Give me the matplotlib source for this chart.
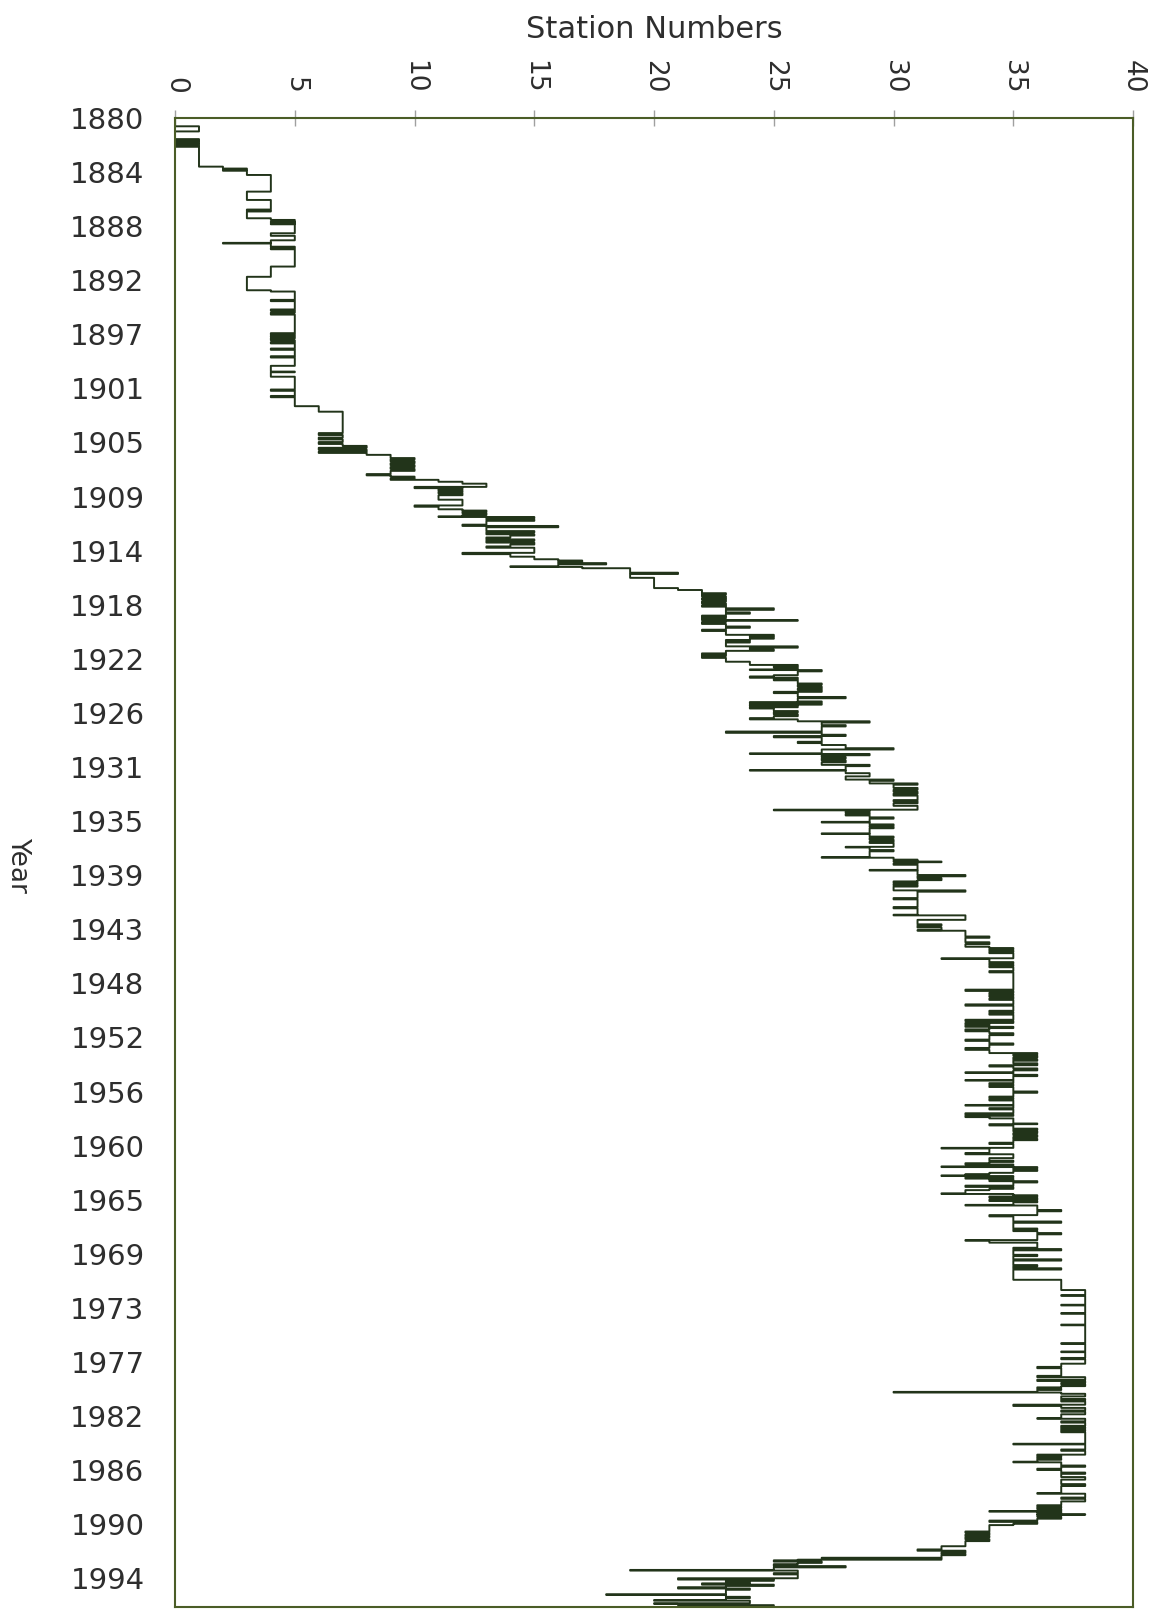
import matplotlib.pyplot as plt
import numpy as np

# top axis: number of stations
station_ticks = [0, 5, 10, 15, 20, 25, 30, 35, 40]

# left axis labels (category axis of the original sheet, one label every ~4.2 years)
year_labels = ["1880", "1884", "1888", "1892", "1897", "1901", "1905", "1909",
               "1914", "1918", "1922", "1926", "1931", "1935", "1939", "1943",
               "1948", "1952", "1956", "1960", "1965", "1969", "1973", "1977",
               "1982", "1986", "1990", "1994"]

# station count, stored as (time the value starts, number of stations)
steps_1880 = [(1880.0, 0), (1880.65, 1), (1881.05, 0), (1881.65, 1), (1881.75, 0), (1881.85, 1),
              (1881.95, 0), (1882.05, 1), (1882.15, 0), (1882.25, 1),
              (1883.8, 2), (1883.95, 3), (1884.05, 2), (1884.12, 3), (1884.45, 4),
              (1885.75, 3), (1886.4, 4), (1887.15, 3), (1887.25, 4), (1887.3, 3), (1887.83, 4),
              (1887.96, 5), (1888.1, 4), (1888.15, 5), (1888.25, 4), (1888.3, 5),
              (1889.0, 4), (1889.2, 5), (1889.55, 4), (1889.75, 2), (1889.8, 4), (1890.05, 5),
              (1890.15, 4), (1890.25, 5), (1891.6, 4),
              (1892.4, 3), (1893.45, 4), (1893.55, 5), (1894.2, 4), (1894.3, 5), (1894.95, 4),
              (1895.05, 5), (1895.2, 4), (1895.35, 5),
              (1896.8, 4), (1896.9, 5), (1897.0, 4), (1897.1, 5), (1897.2, 4), (1897.35, 5),
              (1897.5, 4), (1897.6, 5), (1898.0, 4), (1898.1, 5), (1898.6, 4), (1898.7, 5),
              (1899.35, 4), (1899.8, 5), (1899.85, 4), (1900.2, 5),
              (1901.2, 4), (1901.3, 5), (1901.7, 4), (1901.8, 5), (1902.5, 6), (1902.93, 7)]

steps_1904 = [(1904.6, 6), (1904.75, 7), (1904.95, 6), (1905.1, 7), (1905.3, 6), (1905.45, 7),
              (1905.6, 8), (1905.75, 6), (1905.9, 8), (1906.05, 6), (1906.15, 8), (1906.3, 9),
              (1906.55, 10), (1906.65, 9), (1906.8, 10), (1906.95, 9), (1907.1, 10), (1907.25, 9),
              (1907.4, 10), (1907.55, 9), (1907.8, 8), (1907.9, 9), (1908.0, 10), (1908.15, 9),
              (1908.25, 11), (1908.4, 12), (1908.55, 13),
              (1908.8, 10), (1908.9, 12), (1909.0, 11), (1909.1, 12), (1909.2, 11), (1909.3, 12),
              (1909.45, 11), (1909.8, 12), (1910.25, 10), (1910.35, 11), (1910.55, 12),
              (1910.65, 13), (1910.75, 12), (1910.85, 13), (1911.0, 12), (1911.1, 11),
              (1911.15, 15), (1911.25, 13), (1911.35, 15), (1911.45, 13), (1911.75, 12),
              (1911.85, 16), (1911.95, 13), (1912.25, 15), (1912.35, 13), (1912.5, 15),
              (1912.6, 14), (1912.75, 13), (1912.9, 15), (1913.0, 13), (1913.15, 15),
              (1913.3, 14), (1913.45, 13), (1913.55, 15), (1913.95, 12), (1914.05, 14),
              (1914.25, 15), (1914.45, 16), (1914.55, 17), (1914.65, 16), (1914.75, 18),
              (1914.85, 16), (1915.0, 14), (1915.05, 17), (1915.15, 19), (1915.5, 21),
              (1915.6, 19), (1915.9, 20), (1916.7, 21), (1916.85, 22),
              (1917.1, 23), (1917.2, 22), (1917.35, 23), (1917.5, 22), (1917.6, 23),
              (1917.75, 22), (1917.9, 23), (1918.05, 22), (1918.15, 23)]

steps_1918 = [(1918.28, 25), (1918.4, 23), (1918.6, 24), (1918.7, 23), (1918.85, 22), (1918.95, 23),
              (1919.05, 22), (1919.2, 26), (1919.25, 23), (1919.35, 22), (1919.5, 23),
              (1919.7, 24), (1919.8, 23), (1919.95, 22), (1920.05, 23), (1920.35, 25),
              (1920.45, 24), (1920.55, 25), (1920.65, 24), (1920.75, 23), (1920.85, 24),
              (1920.95, 23), (1921.25, 26), (1921.35, 24), (1921.5, 25), (1921.6, 23),
              (1921.8, 22), (1921.9, 23), (1922.0, 22), (1922.15, 23), (1922.45, 24),
              (1922.7, 26), (1922.8, 25), (1922.9, 26), (1923.05, 24), (1923.1, 27),
              (1923.2, 26), (1923.5, 25), (1923.6, 24), (1923.7, 26), (1923.8, 25),
              (1923.9, 26), (1924.15, 27), (1924.25, 26), (1924.4, 27), (1924.55, 26),
              (1924.65, 27), (1924.8, 25), (1924.9, 26), (1925.2, 28), (1925.3, 26),
              (1925.55, 27), (1925.6, 24), (1925.7, 27), (1925.8, 24), (1925.9, 26),
              (1926.0, 24), (1926.1, 25), (1926.3, 26), (1926.4, 25), (1926.55, 26),
              (1926.7, 25), (1926.85, 24), (1926.95, 26), (1927.1, 29), (1927.2, 27),
              (1927.4, 28), (1927.5, 27), (1927.9, 23), (1928.0, 27), (1928.15, 28),
              (1928.25, 25), (1928.35, 27), (1928.7, 26), (1928.8, 27), (1928.95, 28),
              (1929.2, 30), (1929.3, 27), (1929.6, 24), (1929.65, 29), (1929.75, 27),
              (1929.9, 28), (1930.0, 27), (1930.15, 28), (1930.3, 27), (1930.5, 29),
              (1930.6, 28), (1930.9, 24), (1930.95, 28), (1931.15, 29), (1931.4, 28),
              (1931.65, 30), (1931.75, 29), (1931.95, 31), (1932.05, 30), (1932.3, 31),
              (1932.45, 30), (1932.6, 31), (1932.75, 30), (1932.9, 31), (1933.25, 30),
              (1933.35, 31), (1933.5, 30), (1933.7, 31)]

steps_1934 = [(1934.0, 25), (1934.05, 29), (1934.15, 28), (1934.25, 29), (1934.35, 28),
              (1934.45, 29), (1934.6, 30), (1934.7, 29), (1934.95, 27), (1935.0, 29),
              (1935.15, 30), (1935.25, 29), (1935.35, 30), (1935.45, 29), (1935.85, 27),
              (1935.9, 29), (1936.1, 30), (1936.2, 29), (1936.35, 30), (1936.5, 29),
              (1936.6, 30), (1936.9, 28), (1936.95, 29), (1937.15, 30), (1937.25, 29),
              (1937.7, 27), (1937.75, 30), (1937.9, 31), (1938.0, 30), (1938.05, 32),
              (1938.1, 31), (1938.2, 30), (1938.3, 31), (1938.7, 29), (1938.75, 31),
              (1939.1, 33), (1939.2, 31), (1939.35, 32), (1939.5, 31), (1939.6, 30),
              (1939.7, 31), (1939.8, 30), (1939.9, 31), (1940.0, 30), (1940.3, 33),
              (1940.4, 31), (1940.9, 30), (1941.0, 31), (1941.6, 30), (1941.7, 31),
              (1942.2, 30), (1942.25, 33), (1942.6, 31), (1942.95, 32), (1943.05, 31),
              (1943.2, 32), (1943.4, 31), (1943.45, 33), (1943.9, 34), (1944.0, 33),
              (1944.35, 34), (1944.5, 33), (1944.7, 34), (1944.8, 35), (1944.9, 34),
              (1945.0, 35), (1945.1, 34), (1945.2, 35), (1945.6, 32), (1945.65, 34),
              (1945.9, 35), (1946.0, 34), (1946.1, 35), (1946.2, 34), (1946.3, 35),
              (1946.6, 34), (1946.7, 35)]

steps_1948 = [(1948.05, 33), (1948.15, 35), (1948.3, 34), (1948.4, 35), (1948.5, 34), (1948.6, 35),
              (1948.75, 34), (1948.85, 35), (1949.2, 33), (1949.3, 35), (1949.7, 34),
              (1949.8, 35), (1949.9, 34), (1950.0, 35), (1950.4, 33), (1950.5, 35),
              (1950.65, 33), (1950.75, 34), (1950.85, 33), (1950.95, 35), (1951.05, 34),
              (1951.15, 33), (1951.3, 34), (1951.45, 35), (1951.6, 34), (1951.95, 33),
              (1952.05, 34), (1952.25, 35), (1952.35, 34), (1952.6, 33), (1952.75, 34),
              (1953.0, 36), (1953.1, 35), (1953.2, 36), (1953.35, 35), (1953.5, 36),
              (1953.6, 35), (1953.8, 36), (1953.95, 34), (1954.05, 35), (1954.2, 36),
              (1954.35, 35), (1954.5, 33), (1954.55, 35), (1954.7, 36), (1954.8, 35),
              (1955.1, 33), (1955.15, 35), (1955.35, 34), (1955.45, 35), (1955.55, 34),
              (1955.65, 35), (1956.0, 36), (1956.1, 35), (1956.4, 34), (1956.5, 35),
              (1956.6, 34), (1956.7, 35), (1957.05, 33), (1957.1, 35), (1957.3, 34),
              (1957.4, 35), (1957.7, 33), (1957.8, 35), (1957.9, 33), (1958.0, 34),
              (1958.1, 35), (1958.5, 36), (1958.55, 34), (1958.65, 35), (1958.9, 36),
              (1959.0, 35), (1959.1, 36), (1959.25, 35), (1959.4, 36), (1959.55, 35),
              (1959.7, 36), (1959.8, 35), (1960.0, 34), (1960.1, 35), (1960.4, 32),
              (1960.45, 34), (1960.8, 33), (1960.9, 35), (1961.2, 34), (1961.4, 35)]

steps_1961 = [(1961.5, 34), (1961.6, 33), (1961.7, 35), (1961.85, 32), (1961.9, 36), (1962.0, 35),
              (1962.1, 36), (1962.2, 35), (1962.35, 34), (1962.45, 33), (1962.55, 32),
              (1962.6, 35), (1962.7, 33), (1962.8, 35), (1962.9, 34), (1963.0, 36),
              (1963.1, 35), (1963.35, 33), (1963.45, 35), (1963.6, 34), (1963.7, 33),
              (1963.95, 32), (1964.0, 35), (1964.1, 36), (1964.2, 34), (1964.3, 36),
              (1964.45, 34), (1964.55, 36), (1964.65, 35), (1964.85, 33), (1964.9, 36),
              (1965.25, 37), (1965.35, 36), (1965.65, 34), (1965.75, 35), (1966.15, 37),
              (1966.25, 35), (1966.7, 36), (1966.8, 35), (1966.9, 36), (1967.05, 37),
              (1967.15, 36), (1967.6, 33), (1967.65, 34), (1967.8, 36), (1968.2, 35),
              (1968.3, 37), (1968.4, 35), (1968.75, 36), (1968.85, 35), (1969.1, 37),
              (1969.2, 35), (1969.55, 36), (1969.65, 35), (1969.8, 37), (1969.9, 35),
              (1970.7, 37), (1971.5, 38), (1971.9, 37), (1971.95, 38), (1972.65, 37),
              (1972.7, 38), (1973.3, 37), (1973.35, 38), (1974.2, 37), (1974.25, 38),
              (1975.65, 37), (1975.7, 38), (1976.3, 37), (1976.35, 38), (1976.8, 37),
              (1976.9, 38), (1977.25, 37), (1977.5, 36), (1977.6, 37), (1978.2, 36),
              (1978.3, 38)]

steps_1978 = [(1978.5, 36), (1978.6, 38), (1978.75, 37), (1978.85, 38), (1979.0, 37), (1979.1, 36),
              (1979.2, 37), (1979.3, 36), (1979.45, 30), (1979.5, 37), (1979.6, 38),
              (1979.8, 37), (1980.0, 38), (1980.1, 37), (1980.2, 38), (1980.45, 35),
              (1980.55, 37), (1980.7, 38), (1980.9, 37), (1981.0, 38), (1981.2, 37),
              (1981.5, 36), (1981.55, 38), (1981.75, 37), (1981.85, 38), (1982.1, 37),
              (1982.2, 38), (1982.3, 37), (1982.4, 38), (1982.5, 37), (1982.6, 38),
              (1983.5, 35), (1983.55, 38), (1983.95, 37), (1984.05, 38), (1984.35, 36),
              (1984.45, 37), (1984.55, 36), (1984.65, 37), (1984.75, 36), (1984.9, 35),
              (1984.95, 37), (1985.2, 38), (1985.3, 37), (1985.45, 36), (1985.55, 37),
              (1985.75, 38), (1985.85, 37), (1986.1, 38), (1986.3, 37), (1986.65, 38),
              (1986.8, 37), (1987.35, 36), (1987.4, 38), (1987.7, 37), (1987.8, 38),
              (1988.0, 37), (1988.3, 36), (1988.4, 37), (1988.5, 36), (1988.6, 37),
              (1988.75, 34), (1988.8, 37), (1988.9, 36), (1989.0, 38), (1989.05, 36),
              (1989.2, 37), (1989.35, 36), (1989.5, 34), (1989.6, 36), (1989.75, 35),
              (1989.85, 34), (1990.35, 33), (1990.45, 34), (1990.6, 33), (1990.7, 34),
              (1990.8, 33), (1990.95, 34), (1991.1, 33), (1991.5, 32), (1991.75, 31),
              (1991.85, 33), (1992.0, 32), (1992.1, 33), (1992.2, 32), (1992.4, 27),
              (1992.45, 32), (1992.55, 26), (1992.6, 25), (1992.7, 27), (1992.8, 26),
              (1992.9, 25), (1993.05, 28), (1993.15, 25), (1993.35, 19), (1993.4, 26),
              (1993.6, 25), (1993.7, 26), (1994.0, 21), (1994.1, 25), (1994.2, 23),
              (1994.3, 24), (1994.4, 22), (1994.5, 25), (1994.6, 23), (1994.7, 21),
              (1994.8, 24), (1994.9, 23), (1995.25, 18), (1995.3, 23), (1995.45, 24),
              (1995.55, 23), (1995.7, 20), (1995.75, 24), (1995.95, 20), (1996.0, 21),
              (1996.1, 25)]

end_time = 1996.24

steps = steps_1880 + steps_1904 + steps_1918 + steps_1934 + steps_1948 + steps_1961 + steps_1978
t = [s[0] for s in steps] + [end_time]
n = [s[1] for s in steps] + [steps[-1][1]]

fig = plt.figure(figsize=(11.6, 16.16), dpi=100)
ax = fig.add_axes([0.1509, 0.0056, 0.8259, 0.9214])

# value held from t[i] to t[i+1], then jumps sideways to the next count
ax.plot(n, t, drawstyle='steps-pre', color='#22341a', lw=1.4)

ax.set_xlim(0, 40)
ax.set_ylim(end_time, 1880)

ax.xaxis.tick_top()
ax.set_xticks(station_ticks)
ax.set_xticklabels([str(v) for v in station_ticks])
ax.tick_params(axis='x', direction='inout', length=11, width=1, color='#a0a0a0',
               labelrotation=270, labelsize=19, labelcolor='#2e2e2e', pad=12)

tick_years = 1880 + 4.2225 * np.arange(len(year_labels))
ax.set_yticks(tick_years)
ax.set_yticklabels(year_labels)
ax.tick_params(axis='y', length=0, labelsize=21, labelcolor='#2e2e2e', pad=22)

for side in ['top', 'bottom', 'left', 'right']:
    ax.spines[side].set_color('#4b5d27')
    ax.spines[side].set_linewidth(1.5)

fig.text(654 / 1160, 1 - 29 / 1616, 'Station Numbers', ha='center', va='center',
         fontsize=22, color='#2e2e2e')
fig.text(18 / 1160, 1 - 865 / 1616, 'Year', ha='center', va='center', rotation=270,
         fontsize=19, color='#2e2e2e')

fig.savefig('out.png', dpi=100)
